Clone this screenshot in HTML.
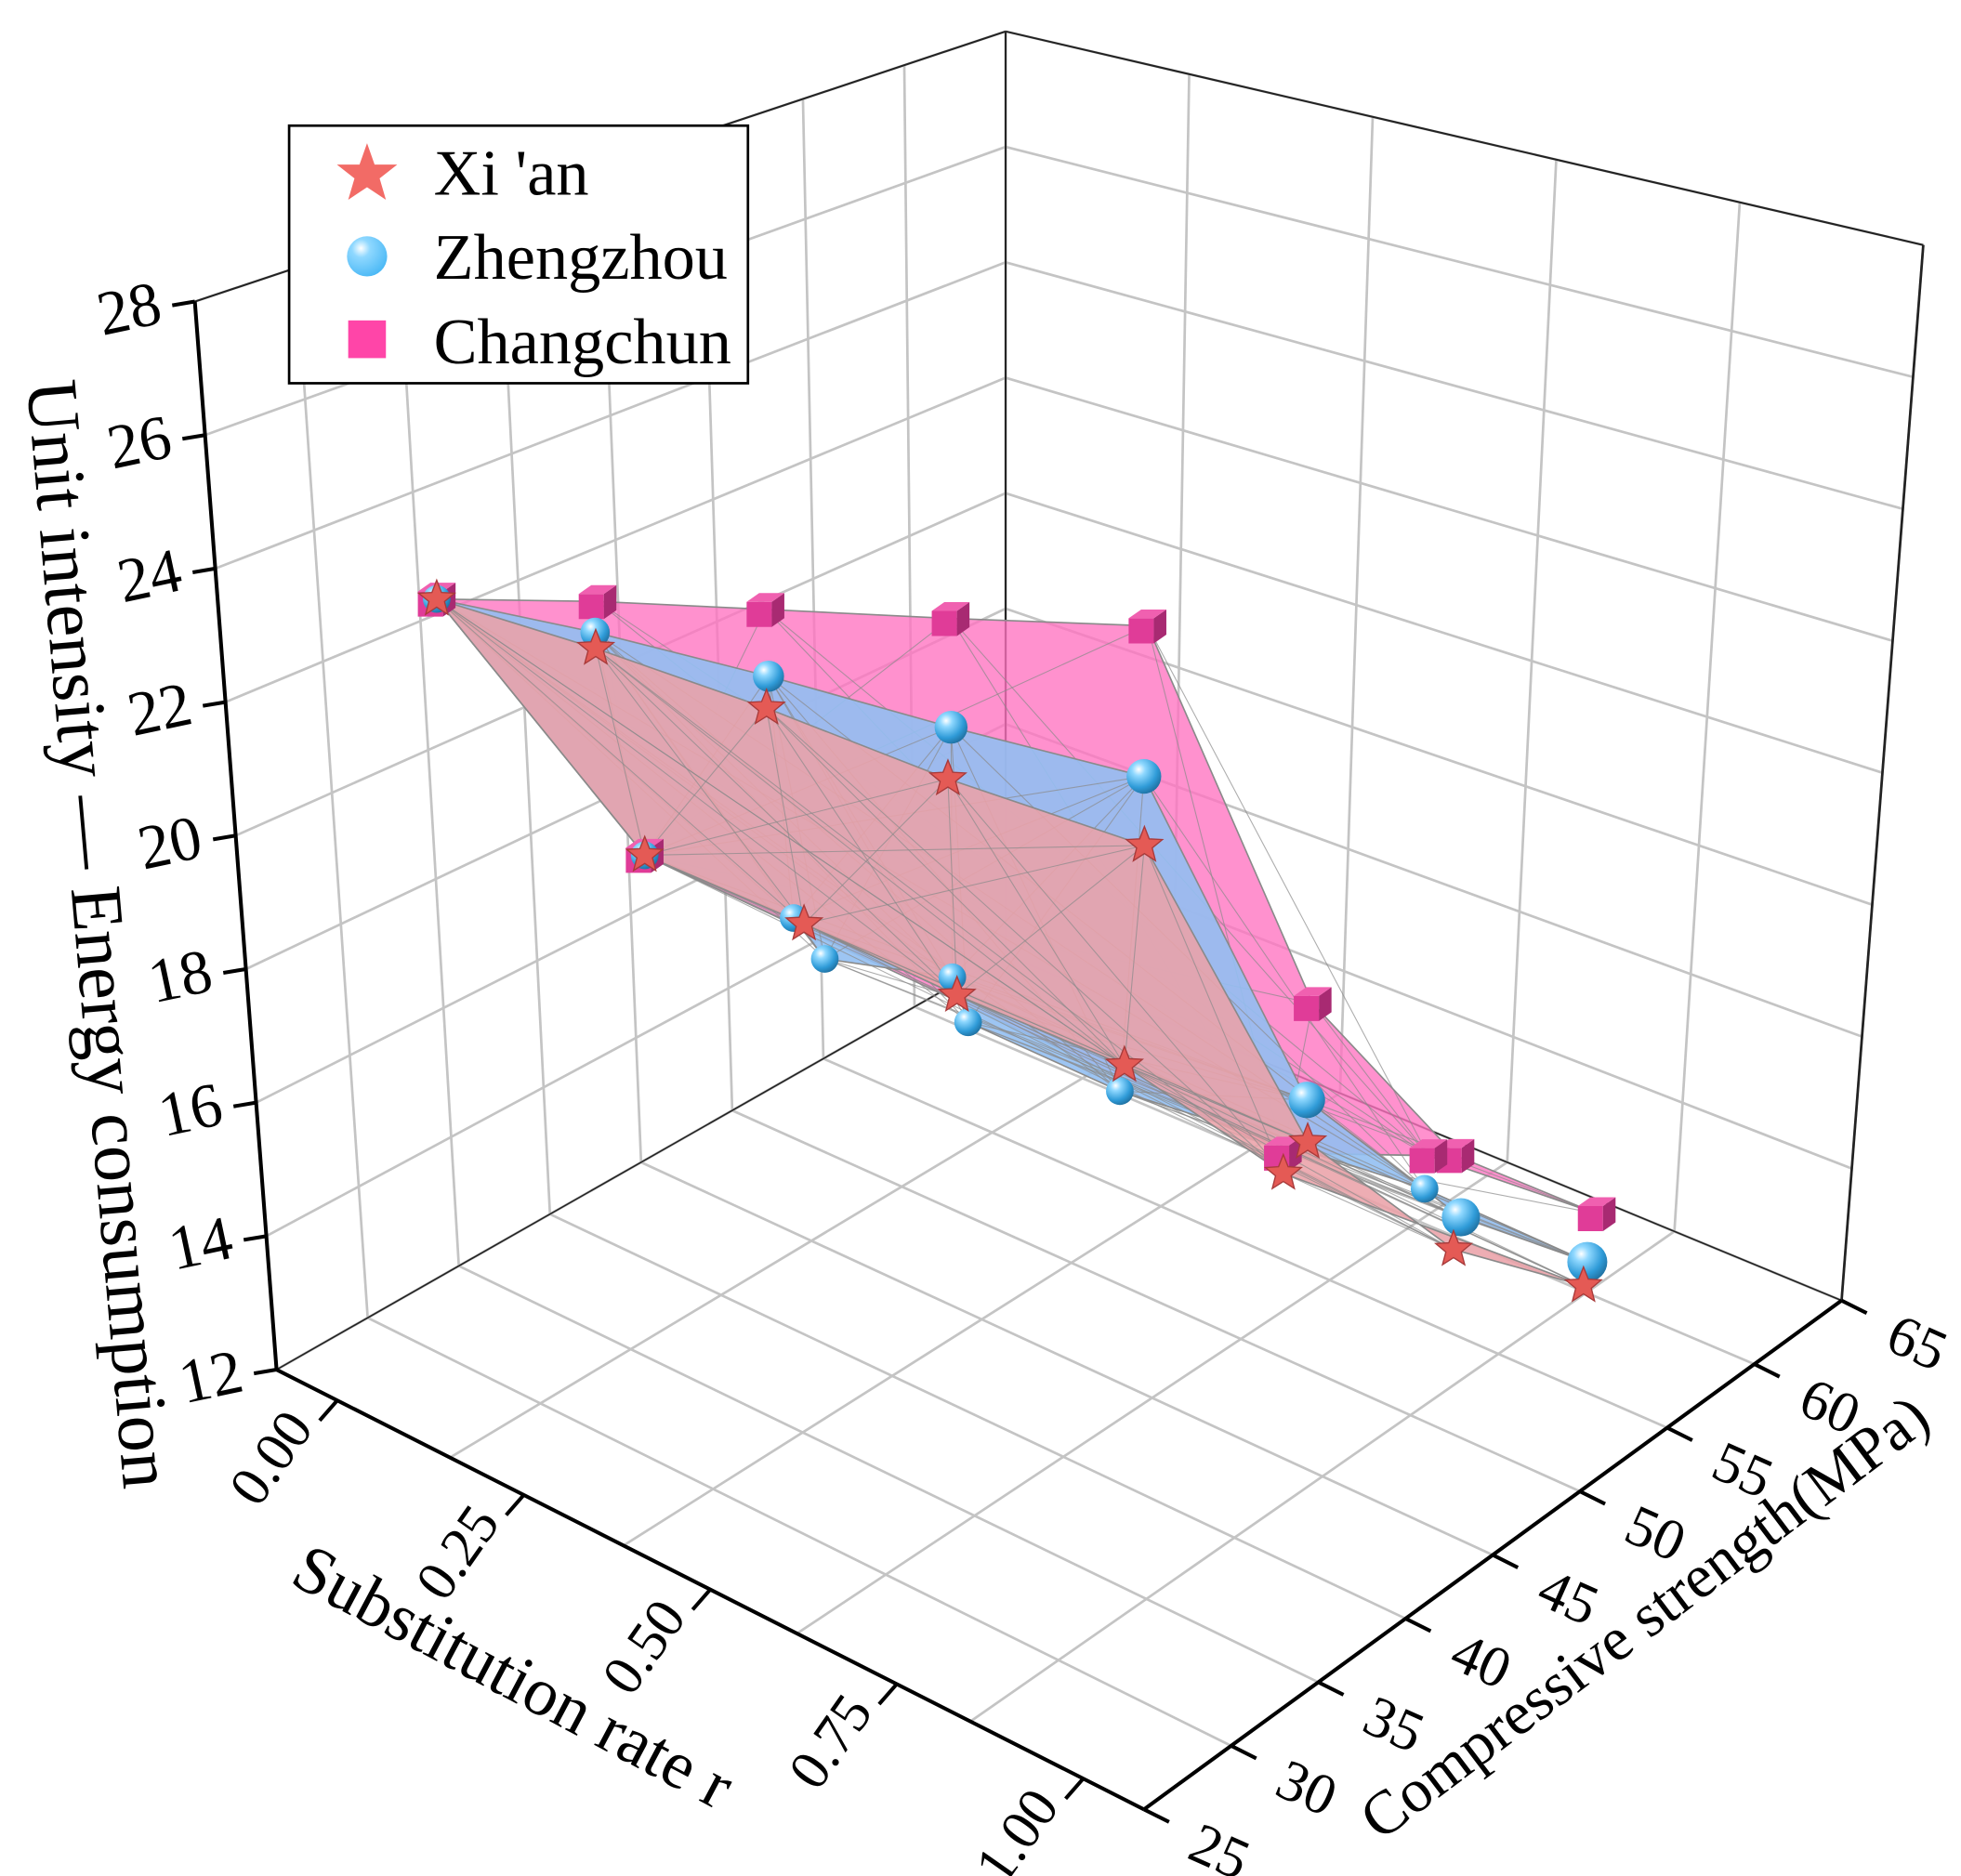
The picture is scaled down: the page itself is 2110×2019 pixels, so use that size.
<!DOCTYPE html>
<html><head><meta charset="utf-8"><style>
html,body{margin:0;padding:0;background:#fff;}
svg{display:block;font-family:"Liberation Serif",serif;}
</style></head><body>
<svg id="chart" width="2110" height="2019" viewBox="0 0 1560 1493" preserveAspectRatio="none" xmlns="http://www.w3.org/2000/svg">
<defs>
<radialGradient id="ball" cx="0.35" cy="0.3" r="0.75">
<stop offset="0" stop-color="#ffffff"/><stop offset="0.25" stop-color="#8fd8ff"/><stop offset="0.7" stop-color="#2f9bd8"/><stop offset="1" stop-color="#1f6f9f"/>
</radialGradient>
<radialGradient id="ballLeg" cx="0.35" cy="0.3" r="0.75">
<stop offset="0" stop-color="#ffffff"/><stop offset="0.3" stop-color="#8fd8ff"/><stop offset="1" stop-color="#4ab8f5"/>
</radialGradient>
</defs>
<g id="grid"></g>
<g id="axes"></g>
<g id="surfaces"></g>
<g id="marks"></g>
<g id="legend">
<rect x="230" y="100" width="365" height="205" fill="#fff" stroke="#000" stroke-width="2"/>
<polygon points="292,114 298,131 316,131 302,142 307,159 292,149 277,159 282,142 268,131 286,131" fill="#f26b66"/>
<text x="345" y="155" font-size="52">Xi 'an</text>
<circle cx="292" cy="204" r="16" fill="url(#ballLeg)"/>
<text x="345" y="222" font-size="52">Zhengzhou</text>
<rect x="277" y="255" width="30" height="30" fill="#ff45a8"/>
<text x="345" y="289" font-size="52">Changchun</text>
</g>
</svg>
<script>
// ---- data ----
const rTicks = [0, 0.25, 0.5, 0.75, 1.0];
const rTickLabels = ["0.00", "0.25", "0.50", "0.75", "1.00"];
const sTicks = [25, 30, 35, 40, 45, 50, 55, 60, 65];
const zTicks = [12, 14, 16, 18, 20, 22, 24, 26, 28];

const xianTopR = [0.133, 0.229, 0.331, 0.439, 0.555, 0.642, 0.727, 0.810];
const xianTopS = [29.9, 33.4, 37.3, 41.6, 46.5, 51.5, 55.8, 59.3];
const xianTopZ = [23.63, 22.93, 22.03, 20.91, 19.77, 14.95, 13.03, 12.29];
const xianBotR = [0.248, 0.341, 0.434, 0.532, 0.625];
const xianBotS = [34.6, 38.5, 42.2, 46.6, 51.0];
const xianBotZ = [19.77, 18.68, 17.55, 16.33, 14.47];

const zhengTopR = [0.133, 0.229, 0.332, 0.441, 0.558, 0.644, 0.730, 0.811];
const zhengTopS = [29.9, 33.4, 37.4, 41.7, 46.3, 51.3, 56.0, 59.4];
const zhengTopZ = [23.63, 23.17, 22.50, 21.68, 20.85, 15.63, 13.50, 12.64];
const zhengBotR = [0.248, 0.338, 0.355, 0.431, 0.440, 0.529, 0.713];
const zhengBotS = [34.6, 38.1, 38.9, 42.1, 42.5, 46.5, 54.7];
const zhengBotZ = [19.77, 18.81, 18.17, 17.82, 17.13, 15.94, 14.07];

const changTopR = [0.133, 0.231, 0.335, 0.446, 0.567, 0.652, 0.733, 0.815];
const changTopS = [29.9, 33.5, 37.2, 41.5, 46.0, 51.1, 55.4, 59.6];
const changTopZ = [23.63, 23.63, 23.54, 23.36, 23.19, 17.16, 14.56, 13.36];
const changBotR = [0.248, 0.626, 0.714];
const changBotS = [34.6, 50.9, 54.8];
const changBotZ = [19.77, 14.80, 14.56];

// ---- projection (trilinear box corners) ----
const F00=[220,1090],F10=[910,1440],F11=[1465,1035],F01=[800,760];
const T00=[155,240],T10=[912,480],T11=[1530,195],T01=[800,25];
function proj(r,s,z){
  const a=r, b=(s-25)/40, c=(z-12)/16;
  const out=[0,0];
  for(let i=0;i<2;i++){
    const f=(1-a)*(1-b)*F00[i]+a*(1-b)*F10[i]+a*b*F11[i]+(1-a)*b*F01[i];
    const t=(1-a)*(1-b)*T00[i]+a*(1-b)*T10[i]+a*b*T11[i]+(1-a)*b*T01[i];
    out[i]=f*(1-c)+t*c;
  }
  return out;
}
function rAxisPos(r){return 0.07+0.86*r;}
const NS="http://www.w3.org/2000/svg";
function mk(tag,attrs,parent){const e=document.createElementNS(NS,tag);for(const k in attrs)e.setAttribute(k,attrs[k]);parent.appendChild(e);return e;}
function line(p,q,stroke,w,parent,name){
  const e=mk('line',{x1:p[0],y1:p[1],x2:q[0],y2:q[1],stroke:stroke,'stroke-width':w},parent);
  
  
  return e;
}
const grid=document.getElementById('grid');
const axes=document.getElementById('axes');
const gc="#c4c4c4";
for(const s of sTicks){line(proj(0,s,12),proj(0,s,28),gc,2,grid,'gridline-left-wall');}
for(const z of zTicks){line(proj(0,25,z),proj(0,65,z),gc,2,grid,'gridline-left-wall');}
const rGrid=[0,0.2,0.4,0.6,0.8,1.0];
for(const r of rGrid){line(proj(r,65,12),proj(r,65,28),gc,2,grid,'gridline-right-wall');}
for(const z of zTicks){line(proj(0,65,z),proj(1,65,z),gc,2,grid,'gridline-right-wall');}
for(const r of rGrid){line(proj(r,25,12),proj(r,65,12),gc,2,grid,'gridline-floor');}
for(const s of sTicks){line(proj(0,s,12),proj(1,s,12),gc,2,grid,'gridline-floor');}
line(proj(0,25,28),proj(0,65,28),"#222",1.5,axes,'box-edge');
line(proj(0,65,28),proj(1,65,28),"#222",1.5,axes,'box-edge');
line(proj(1,65,12),proj(1,65,28),"#222",2,axes,'box-edge');
line(proj(0,65,12),proj(0,65,28),"#222",1.5,axes,'box-edge');
line(proj(0,25,12),proj(0,65,12),"#222",1.2,axes,'box-edge');
line(proj(0,65,12),proj(1,65,12),"#222",1.2,axes,'box-edge');
// z axis
line(proj(0,25,12),proj(0,25,28),"#000",3,axes,'z-axis-line');
zTicks.forEach(z=>{
  const p=proj(0,25,z);
  line(p,[p[0]-18,p[1]+3],"#000",3,axes,'z-tick');
  const t=mk('text',{x:p[0]-28,y:p[1]+17,'font-size':50,'text-anchor':'end',transform:`rotate(-12 ${p[0]-28} ${p[1]})`},axes);
  t.textContent=z;
  
  
});
// r axis
line(proj(0,25,12),proj(1,25,12),"#000",3,axes,'x-axis-line');
rTicks.forEach((r,i)=>{
  const p=proj(rAxisPos(r),25,12);
  line(p,[p[0]-14,p[1]+16],"#000",3,axes,'x-tick');
  const x=p[0]-18,y=p[1]+22;
  const t=mk('text',{x:x,y:y,'font-size':45,'text-anchor':'end',transform:`rotate(-55 ${x} ${y})`},axes);
  t.textContent=rTickLabels[i];
  
  
});
// s axis
line(proj(1,25,12),proj(1,65,12),"#000",3,axes,'y-axis-line');
sTicks.forEach(s=>{
  const p=proj(1,s,12);
  line(p,[p[0]+20,p[1]+10],"#000",3,axes,'y-tick');
  const x=p[0]+33,y=p[1]+38;
  const t=mk('text',{x:x,y:y,'font-size':46,transform:`rotate(24 ${x} ${y})`},axes);
  t.textContent=s;
  
  
});
let tt=mk('text',{x:0,y:0,'font-size':58,'text-anchor':'middle',transform:'translate(60,745) rotate(85)'},axes);
tt.textContent='Unit intensity — Energy consumption';


tt=mk('text',{x:0,y:0,'font-size':54,'text-anchor':'middle',transform:'translate(400,1350) rotate(28)'},axes);
tt.textContent='Substitution rate r';


tt=mk('text',{x:0,y:0,'font-size':49,'text-anchor':'middle',transform:'translate(1318,1300) rotate(-37)'},axes);
tt.textContent='Compressive strength(MPa)';



// ---- surfaces ----
const surf=document.getElementById('surfaces');
function pts(R,S,Z){return R.map((r,i)=>proj(r,S[i],Z[i]));}
function surface(TR,TS,TZ,BR,BS,BZ,fill,op,name){
  const top=pts(TR,TS,TZ), bot=pts(BR,BS,BZ);
  const poly=top.concat(bot.slice().reverse());
  const e=mk('polygon',{points:poly.map(p=>p.join(',')).join(' '),fill:fill,'fill-opacity':op,stroke:'#8a8a8a','stroke-width':1.2},surf);
  
  
  top.forEach(p=>bot.forEach(q=>{
    const l=mk('line',{x1:p[0],y1:p[1],x2:q[0],y2:q[1],stroke:'#8a8a8a','stroke-width':0.8,'stroke-opacity':0.7},surf);
    
    
  }));
  return [top,bot];
}
const cc=surface(changTopR,changTopS,changTopZ,changBotR,changBotS,changBotZ,'#ff72c0',0.78,'changchun-surface');
const zz=surface(zhengTopR,zhengTopS,zhengTopZ,zhengBotR,zhengBotS,zhengBotZ,'#92bff2',0.9,'zhengzhou-surface');
const xx=surface(xianTopR,xianTopS,xianTopZ,xianBotR,xianBotS,xianBotZ,'#eba2a9',0.88,'xian-surface');

// ---- markers ----
const marks=document.getElementById('marks');
function star(p,name){
  const R=15,r=6.5,a=[];
  for(let i=0;i<10;i++){const ang=-Math.PI/2+i*Math.PI/5;const rr=i%2?r:R;a.push((p[0]+rr*Math.cos(ang)).toFixed(1)+','+(p[1]+rr*Math.sin(ang)).toFixed(1));}
  const e=mk('polygon',{points:a.join(' '),fill:'#e45a55',stroke:'#a83a3a','stroke-width':1},marks);
  
  
}
function ball(p,name,rad){
  const e=mk('circle',{cx:p[0],cy:p[1],r:rad,fill:'url(#ball)'},marks);
  
  
}
function cube(p,name){
  const g=mk('g',{},marks);
  
  
  const x=p[0],y=p[1];
  mk('polygon',{points:`${x-15},${y-6} ${x+5},${y-6} ${x+5},${y+14} ${x-15},${y+14}`,fill:'#e03c98'},g);
  mk('polygon',{points:`${x+5},${y-6} ${x+15},${y-13} ${x+15},${y+7} ${x+5},${y+14}`,fill:'#a82a72'},g);
  mk('polygon',{points:`${x-15},${y-6} ${x-5},${y-13} ${x+15},${y-13} ${x+5},${y-6}`,fill:'#f060b0'},g);
}
cc[0].forEach(p=>cube(p,'changchun-point'));
cc[1].forEach(p=>cube(p,'changchun-point'));
zz[0].forEach((p,i)=>ball(p,'zhengzhou-point',11+i*0.7));
zz[1].forEach(p=>ball(p,'zhengzhou-point',11));
xx[0].forEach(p=>star(p,'xian-point'));
xx[1].forEach(p=>star(p,'xian-point'));
</script>
</body></html>
